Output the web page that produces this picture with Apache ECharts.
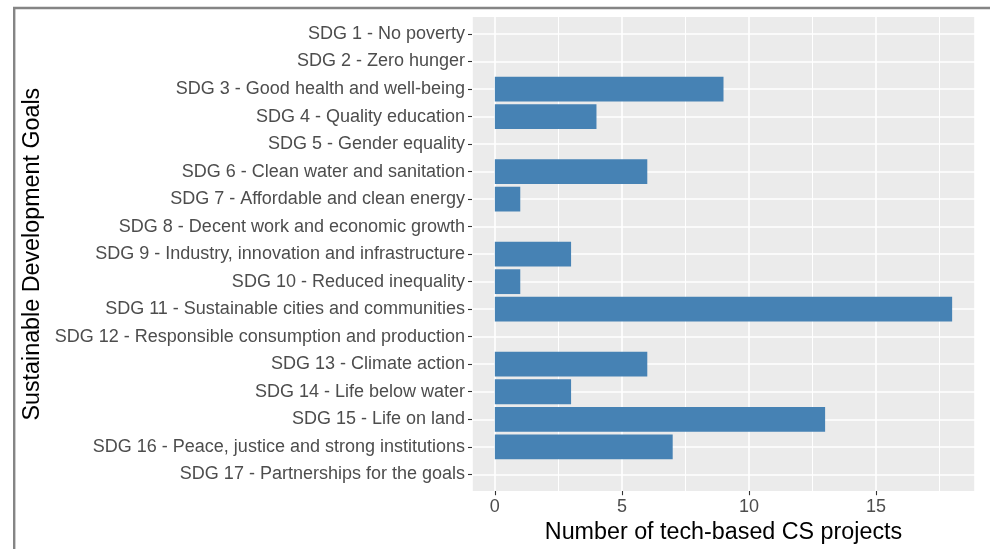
<!DOCTYPE html>
<html>
<head>
<meta charset="utf-8">
<script src="https://cdn.jsdelivr.net/npm/echarts@6/dist/echarts.min.js"></script>
<style>
html,body{margin:0;padding:0;background:#fff;}
#c{width:990px;height:549px;}
</style>
</head>
<body>
<div id="c"></div>
<script>
const categories = [
  "SDG 1 - No poverty",
  "SDG 2 - Zero hunger",
  "SDG 3 - Good health and well-being",
  "SDG 4 - Quality education",
  "SDG 5 - Gender equality",
  "SDG 6 - Clean water and sanitation",
  "SDG 7 - Affordable and clean energy",
  "SDG 8 - Decent work and economic growth",
  "SDG 9 - Industry, innovation and infrastructure",
  "SDG 10 - Reduced inequality",
  "SDG 11 - Sustainable cities and communities",
  "SDG 12 - Responsible consumption and production",
  "SDG 13 - Climate action",
  "SDG 14 - Life below water",
  "SDG 15 - Life on land",
  "SDG 16 - Peace, justice and strong institutions",
  "SDG 17 - Partnerships for the goals"
];
const projectCounts = [0, 0, 9, 4, 0, 6, 1, 0, 3, 1, 18, 0, 6, 3, 13, 7, 0];
const xMin = -0.9;
const xMax = 18.9;
const minorGridValues = [2.5, 7.5, 12.5, 17.5];
const xTitle = "Number of tech-based CS projects";
const yTitle = "Sustainable Development Goals";

const font = "'Liberation Sans', Arial, sans-serif";
const chart = echarts.init(document.getElementById('c'), null, {renderer: 'canvas'});

chart.setOption({
  animation: false,
  backgroundColor: '#ffffff',
  graphic: [{
    type: 'rect', silent: true, z: 100,
    shape: {x: 14.2, y: 8, width: 1100, height: 700},
    style: {fill: 'none', stroke: '#858585', lineWidth: 2.4}
  }],
  grid: [
    {left: 472, top: 34, width: 503, height: 440.3, containLabel: false},
    {left: 472, top: 17, width: 503, height: 474, show: true, backgroundColor: '#EBEBEB', borderWidth: 0, z: 0}
  ],
  xAxis: [
    {gridIndex: 0, type: 'value', min: xMin, max: xMax, show: false, splitLine: {show: false}},
    {gridIndex: 1, type: 'value', min: xMin, max: xMax, splitNumber: 4,
      axisLine: {show: false, onZero: false},
      axisTick: {show: true, length: 4.2, lineStyle: {color: '#333333', width: 1.1}},
      axisLabel: {show: true, margin: 7, color: '#4D4D4D', fontSize: 18, fontFamily: font, showMinLabel: false, showMaxLabel: false},
      splitLine: {show: true, lineStyle: {color: '#ffffff', width: 1.6}},
      name: xTitle, nameLocation: 'middle', nameGap: 25,
      nameTextStyle: {color: '#000000', fontSize: 23.3, fontFamily: font}
    }
  ],
  yAxis: [
    {gridIndex: 0, type: 'category', data: categories, inverse: true, boundaryGap: false,
      axisLine: {show: false, onZero: false},
      axisTick: {show: true, length: 4, lineStyle: {color: '#333333', width: 1.1}},
      axisLabel: {show: true, margin: 7, color: '#4D4D4D', fontSize: 18, fontFamily: font, interval: 0},
      splitLine: {show: true, interval: 0, lineStyle: {color: '#ffffff', width: 1.6}},
      name: yTitle, nameLocation: 'middle', nameGap: 425, nameRotate: 90,
      nameTextStyle: {color: '#000000', fontSize: 23.3, fontFamily: font}
    },
    {gridIndex: 1, type: 'value', min: 0, max: 1, show: false, splitLine: {show: false}}
  ],
  series: [
    {type: 'bar', xAxisIndex: 0, yAxisIndex: 0, data: projectCounts, barWidth: '90%',
      itemStyle: {color: '#4682B4'}, z: 5, silent: true},
    {type: 'scatter', xAxisIndex: 1, yAxisIndex: 1, silent: true, z: 1,
      data: minorGridValues.map(v => [v, 0]), symbolSize: 0,
      itemStyle: {opacity: 0},
      markLine: {silent: true, symbol: 'none', label: {show: false},
        lineStyle: {color: '#ffffff', width: 1, type: 'solid', opacity: 1},
        data: minorGridValues.map(v => ({xAxis: v}))}
    }
  ]
});
</script>
</body>
</html>
